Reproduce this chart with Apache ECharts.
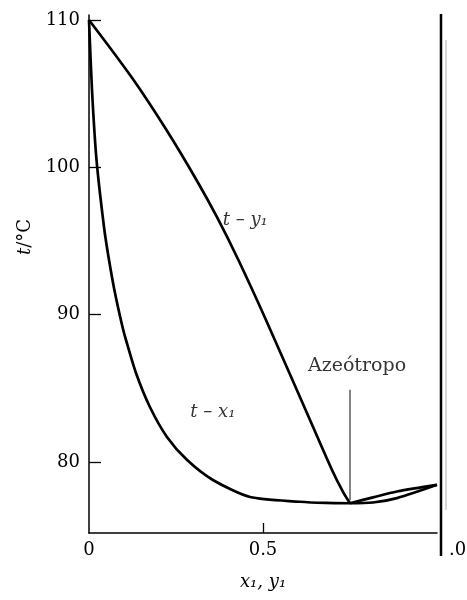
<!DOCTYPE html>
<html>
<head>
<meta charset="utf-8">
<script src="https://cdn.jsdelivr.net/npm/echarts@6/dist/echarts.min.js"></script>
<style>
html,body{margin:0;padding:0;background:#fff;}
#c{width:467px;height:600px;}
</style>
</head>
<body>
<div id="c"></div>
<script>
// ---- data ----
var vaporLeftX  = [0, 0.1241, 0.2227, 0.3089, 0.3675, 0.4293, 0.5086, 0.6351, 0.6983, 0.7299, 0.75];
var vaporLeftT  = [110, 106.06, 102.53, 99.14, 96.63, 93.71, 89.64, 82.85, 79.46, 77.97, 77.2];
var liquidLeftX = [0, 0.0086, 0.0216, 0.0431, 0.0575, 0.0747, 0.0963, 0.1063, 0.135, 0.175, 0.224, 0.282, 0.356, 0.463, 0.606, 0.68, 0.75];
var liquidLeftT = [110, 105.25, 100.5, 95.95, 93.71, 91.47, 89.16, 88.28, 86.04, 83.73, 81.70, 80.13, 78.78, 77.62, 77.3, 77.22, 77.2];
var vaporRightX  = [0.75, 0.816, 0.885, 1.0];
var vaporRightT  = [77.2, 77.6, 78.0, 78.45];
var liquidRightX = [0.75, 0.816, 0.885, 1.0];
var liquidRightT = [77.2, 77.25, 77.55, 78.45];
var azeoX = [0.75, 0.75];
var azeoT = [84.9, 77.4];
var yTicks = [80, 90, 100, 110];
var xTicks = [0, 0.5];
var curveLabels = ['t – y\u2081', 't – x\u2081'];
var curveLabelX = [0.449, 0.356];
var curveLabelT = [96.4, 83.4];

function pairs(xs, ts){ return xs.map(function(x,i){ return [x, ts[i]]; }); }

var serif = 'DejaVu Serif';
var lineW = 2.7;
var ink = '#000';

var chart = echarts.init(document.getElementById('c'), null, {renderer:'canvas'});
chart.setOption({
  animation: false,
  backgroundColor: '#fff',
  grid: {left: 89, right: 30, top: 15, bottom: 67, outerBoundsMode: 'none', containLabel: false},
  xAxis: {
    type: 'value', min: 0, max: 1,
    name: 'x\u2081, y\u2081', nameLocation: 'middle', nameGap: 40,
    nameTextStyle: {fontFamily: serif, fontStyle: 'italic', fontSize: 18, color: ink},
    axisLine: {show: true, lineStyle: {color: ink, width: 1.5}},
    axisTick: {show: true, inside: true, length: 10, customValues: [0.5], lineStyle: {color: ink, width: 1.3}},
    axisLabel: {customValues: xTicks, fontFamily: serif, fontSize: 18, color: ink, margin: 8,
      formatter: function(v){ return v === 0 ? '0' : String(v); }},
    splitLine: {show: false}
  },
  yAxis: {
    type: 'value', min: 75.18, max: 110.34,
    axisLine: {show: true, lineStyle: {color: ink, width: 1.5}},
    axisTick: {show: true, inside: true, length: 12, customValues: yTicks, lineStyle: {color: ink, width: 1.3}},
    axisLabel: {customValues: yTicks, fontFamily: serif, fontSize: 18, color: ink, margin: 9},
    splitLine: {show: false}
  },
  series: [
    {type:'line', data: pairs(vaporLeftX, vaporLeftT), smooth: 0.3, showSymbol:false, lineStyle:{color:ink,width:lineW}},
    {type:'line', data: pairs(liquidLeftX, liquidLeftT), smooth: 0.25, showSymbol:false, lineStyle:{color:ink,width:lineW}},
    {type:'line', data: pairs(vaporRightX, vaporRightT), smooth: 0.3, showSymbol:false, lineStyle:{color:ink,width:lineW}},
    {type:'line', data: pairs(liquidRightX, liquidRightT), smooth: 0.3, showSymbol:false, lineStyle:{color:ink,width:lineW}},
    {type:'line', data: pairs(azeoX, azeoT), showSymbol:false, lineStyle:{color:'#333',width:1.2}},
    {type:'scatter', symbolSize: 0, data: [[azeoX[0], azeoT[0]]],
      label: {show: true, position: 'top', distance: 14, offset: [7, 0], formatter: 'Azeótropo',
        fontFamily: serif, fontSize: 19, color: ink}},
    {type:'scatter', symbolSize: 0,
      data: curveLabels.map(function(s,i){ return {value:[curveLabelX[i], curveLabelT[i]], name:s}; }),
      label: {show: true, position: 'inside', formatter: '{b}', fontFamily: serif, fontStyle: 'italic', fontSize: 18, color: ink}}
  ],
  graphic: [
    {type:'line', shape:{x1:441, y1:14, x2:441, y2:556}, style:{stroke:'#000', lineWidth:2.5}},
    {type:'line', shape:{x1:446, y1:40, x2:446, y2:510}, style:{stroke:'#aaa', lineWidth:1}},
    {type:'text', left: 449, top: 541, style:{text:'.0', font:'18px "DejaVu Serif"', fill: ink}},
    {type:'text', x: 25, y: 237, rotation: Math.PI/2,
      style:{text:'{i|t}/°C', align:'center', verticalAlign:'middle',
        font:'18px "DejaVu Serif"', fill: ink,
        rich:{i:{fontStyle:'italic', fontFamily: serif, fontSize: 18, fill: ink}}}}
  ]
});
</script>
</body>
</html>
